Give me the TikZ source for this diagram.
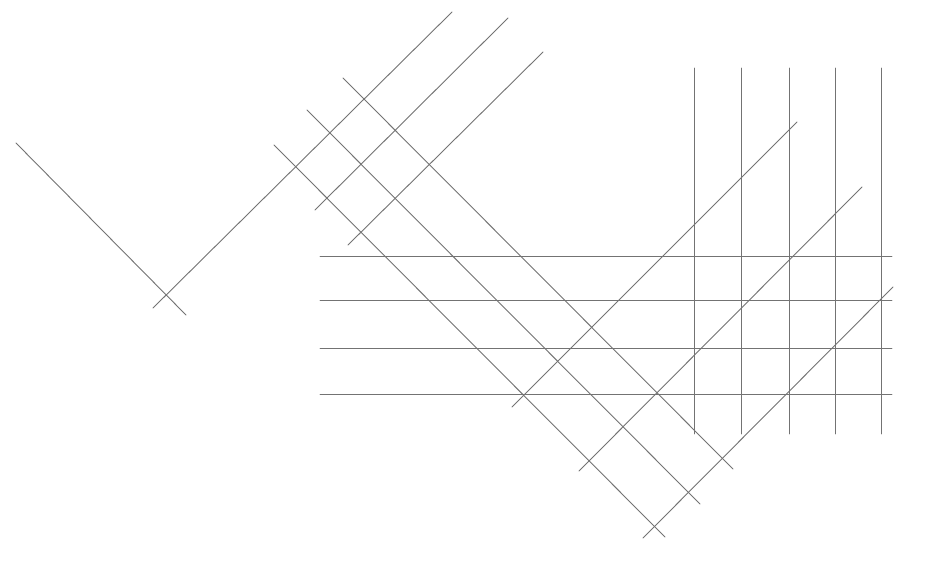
\documentclass[tikz,border=0pt]{standalone}
\begin{document}
\begin{tikzpicture}[x=1pt,y=-1pt,
  pencil/.style={draw=black!55,line width=0.9pt,line cap=round}]
\useasboundingbox[fill=white] (0,0) rectangle (934,573);
% left V
\draw[pencil] (16,143) -- (186,315);
\draw[pencil] (153,308) -- (452,12);
% upper up-right lines
\draw[pencil] (315,210) -- (508,18);
\draw[pencil] (348,245) -- (543,52);
% long down-right lines
\draw[pencil] (274,145) -- (665,537);
\draw[pencil] (307,110) -- (700,504);
\draw[pencil] (343,78) -- (733,469);
% lower up-right lines
\draw[pencil] (512,407) -- (797,122);
\draw[pencil] (579,471) -- (862,187);
\draw[pencil] (643,538) -- (893,287);
% horizontal lines
\foreach \y in {256,300,348,394} \draw[pencil] (320,\y) -- (892,\y);
% vertical lines
\foreach \x in {694,741,789,835,881} \draw[pencil] (\x,68) -- (\x,434);
\end{tikzpicture}
\end{document}
